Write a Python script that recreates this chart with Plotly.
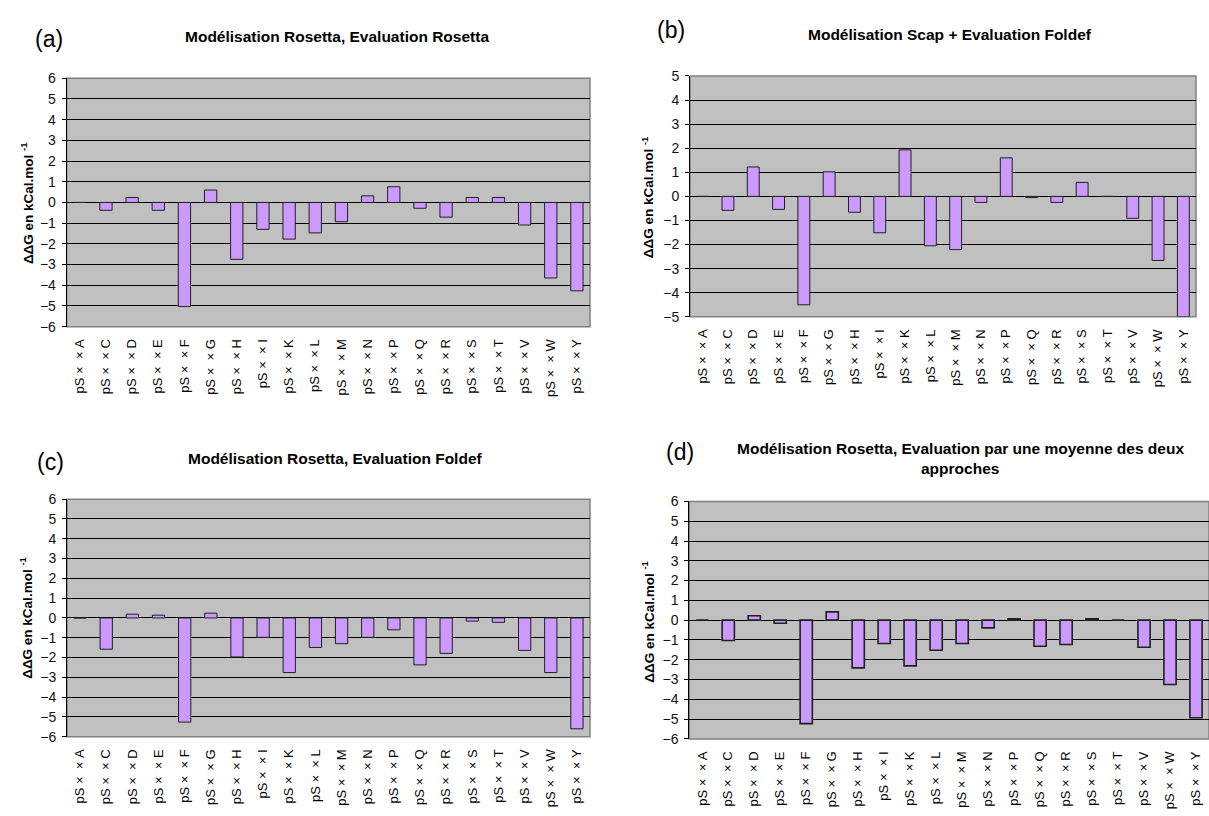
import plotly.graph_objects as go

W, H = 1209, 816

categories = ["A", "C", "D", "E", "F", "G", "H", "I", "K", "L",
              "M", "N", "P", "Q", "R", "S", "T", "V", "W", "Y"]
tick_labels = ["pS\u00a0×\u00a0\u00a0×\u00a0" + c for c in categories]

vals_a = [0, -0.38, 0.24, -0.38, -5.03, 0.60, -2.75, -1.30, -1.77, -1.47,
          -0.93, 0.32, 0.76, -0.28, -0.71, 0.24, 0.24, -1.09, -3.65, -4.27]
vals_b = [0, -0.58, 1.22, -0.54, -4.50, 1.02, -0.66, -1.51, 1.93, -2.05,
          -2.21, -0.25, 1.60, -0.05, -0.25, 0.58, 0, -0.91, -2.66, -5.00]
vals_c = [0, -1.58, 0.19, 0.14, -5.26, 0.24, -1.97, -0.98, -2.76, -1.49,
          -1.30, -0.98, -0.60, -2.37, -1.79, -0.16, -0.22, -1.64, -2.76, -5.60]
vals_d = [0, -1.03, 0.22, -0.16, -5.23, 0.42, -2.41, -1.18, -2.31, -1.52,
          -1.18, -0.39, 0.07, -1.32, -1.23, 0.07, 0, -1.37, -3.25, -4.93]

titles = [
    ["Modélisation Rosetta, Evaluation Rosetta"],
    ["Modélisation Scap + Evaluation Foldef"],
    ["Modélisation Rosetta, Evaluation Foldef"],
    ["Modélisation Rosetta, Evaluation par une moyenne des deux", "approches"],
]
letters = ["(a)", "(b)", "(c)", "(d)"]
y_ranges = [(-6, 6), (-5, 5), (-6, 6), (-6, 6)]
series = [vals_a, vals_b, vals_c, vals_d]
bar_line_widths = [1, 1, 1, 1.6]

# layout geometry in pixels: left, right, top, bottom of plot areas
boxes = [
    (66.7, 590.0, 71.7, 325.0),
    (690.0, 1196.0, 69.3, 315.0),
    (67.0, 590.0, 501.0, 743.3),
    (689.3, 1209.0, 503.3, 745.5),
]
title_pos = [[(337, 29)], [(950, 27)], [(335, 459)], [(960, 449), (960, 470)]]
letter_pos = [(49, 32), (671, 22), (50, 463), (680, 453)]
ytitle_pos = [(27, 199), (648, 193), (26, 622), (648, 626)]

FONT = "Arial, 'Liberation Sans', sans-serif"


def px(x):
    return x / W


def py(y):
    return 1 - y / H


def sfx(n):
    return "" if n == 1 else str(n)


fig = go.Figure()
layout = dict(
    width=W, height=H, autosize=False,
    margin=dict(l=0, r=0, t=0, b=0, pad=0),
    paper_bgcolor="white", plot_bgcolor="#C0C0C0",
    font=dict(family=FONT, color="black"),
    showlegend=False,
)
annotations = []
shapes = []

for k in range(4):
    n = k + 1
    s = sfx(n)
    l, r, t, b = boxes[k]
    dx = [px(l), min(px(r), 1.0)]
    dy = [py(b), py(t)]
    lo, hi = y_ranges[k]
    fig.add_trace(go.Bar(
        x=categories, y=series[k],
        xaxis=f"x{s}", yaxis=f"y{s}",
        marker=dict(color="#CC99FF",
                    line=dict(color="#202020", width=bar_line_widths[k])),
        width=0.47, hoverinfo="x+y",
    ))
    layout[f"xaxis{s}"] = dict(
        domain=dx, anchor=f"y{s}", type="category",
        range=[-0.5, 19.5],
        tickmode="array", tickvals=categories, ticktext=tick_labels,
        tickangle=-90, ticks="", showgrid=False, zeroline=False, showline=False,
        tickfont=dict(size=13, color="black", family=FONT),
        ticklabelstandoff=9,
    )
    zero_pos = dy[0] + (0 - lo) / (hi - lo) * (dy[1] - dy[0])
    layout[f"xaxis{n + 4}"] = dict(
        overlaying=f"x{s}", anchor="free", position=zero_pos,
        type="linear", range=[-0.5, 19.5],
        tickmode="array", tickvals=[i + 0.5 for i in range(20)],
        ticks="outside", ticklen=4, tickcolor="#202020", tickwidth=1,
        showline=True, linecolor="black", linewidth=1,
        showticklabels=False, showgrid=False, zeroline=False,
    )
    layout[f"yaxis{s}"] = dict(
        domain=dy, anchor=f"x{s}", range=[lo, hi],
        tickmode="linear", tick0=0, dtick=1,
        showgrid=True, gridcolor="black", gridwidth=1,
        zeroline=True, zerolinecolor="black", zerolinewidth=1,
        showline=True, linecolor="black", linewidth=1,
        ticks="outside", ticklen=4, tickcolor="black",
        tickfont=dict(size=14, color="#111111", family=FONT),
        ticklabelstandoff=3,
    )
    shapes.append(dict(
        type="rect", xref=f"x{s} domain", yref=f"y{s} domain",
        x0=0, x1=1, y0=0, y1=1, layer="below",
        line=dict(color="#808080", width=1.5), fillcolor="rgba(0,0,0,0)",
    ))
    for text, (tx, ty) in zip(titles[k], title_pos[k]):
        annotations.append(dict(
            text=f"<b>{text}</b>", x=px(tx), y=py(ty), xref="paper", yref="paper",
            xanchor="center", yanchor="middle", showarrow=False,
            font=dict(size=15.5, color="black", family=FONT),
        ))
    lx, ly = letter_pos[k]
    annotations.append(dict(
        text=letters[k], x=px(lx), y=py(ly), xref="paper", yref="paper",
        xanchor="center", yanchor="middle", showarrow=False,
        font=dict(size=23, color="black", family=FONT),
    ))
    yx, yy = ytitle_pos[k]
    annotations.append(dict(
        text="<b>ΔΔG en kCal.mol <sup>-1</sup></b>", x=px(yx), y=py(yy),
        xref="paper", yref="paper", xanchor="center", yanchor="middle",
        textangle=-90, showarrow=False,
        font=dict(size=13.5, color="black", family=FONT),
    ))

layout["annotations"] = annotations
layout["shapes"] = shapes
fig.update_layout(**layout)
fig.write_html(
    "out.html",
    config={"displayModeBar": False},
    post_script="document.body.style.margin='0';document.body.style.padding='0';"
                "document.body.style.overflow='hidden';",
)
